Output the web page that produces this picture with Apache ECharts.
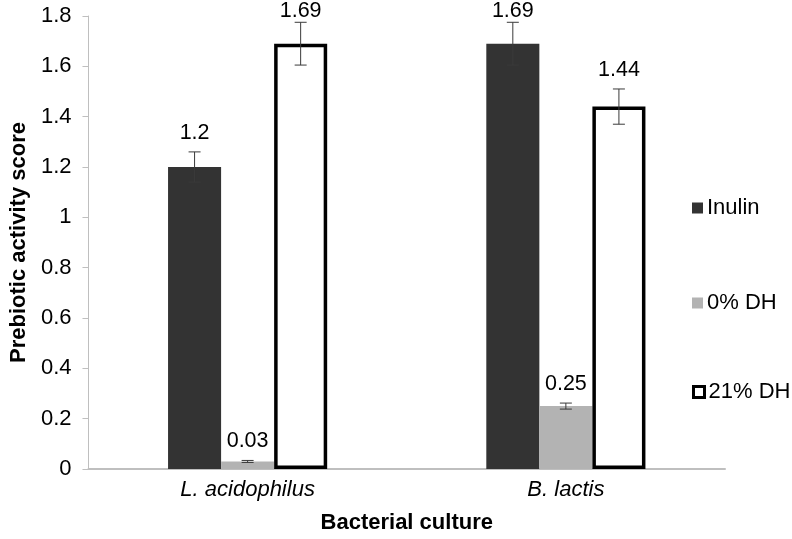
<!DOCTYPE html>
<html>
<head>
<meta charset="utf-8">
<script src="https://cdn.jsdelivr.net/npm/echarts@6/dist/echarts.min.js"></script>
<style>
html,body{margin:0;padding:0;background:#fff;}
#chart{width:792px;height:539px;}
</style>
</head>
<body>
<div id="chart"></div>
<script>
// ---- data ----
const categories = ['L. acidophilus', 'B. lactis'];
const seriesNames = ['Inulin', '0% DH', '21% DH'];
const inulin = [1.2, 1.69];
const dh0 = [0.03, 0.25];
const dh21 = [1.69, 1.44];
const inulinErr = [0.06, 0.085];
const dh0Err = [0.004, 0.012];
const dh21Err = [0.085, 0.07];
const yTicks = [0, 0.2, 0.4, 0.6, 0.8, 1, 1.2, 1.4, 1.6, 1.8];

const FONT = 'Liberation Sans, Arial, sans-serif';
const FS = 22;
const values = [inulin, dh0, dh21];
const errs = [inulinErr, dh0Err, dh21Err];
const barStyles = [
  {color: '#333333'},
  {color: '#b3b3b3'},
  {color: '#ffffff', borderColor: '#000000', borderWidth: 3.5}
];

function errSeries(k) {
  return {
    type: 'custom',
    z: 10,
    silent: true,
    clip: false,
    data: categories.map((c, i) => [i, values[k][i], errs[k][i]]),
    encode: {x: 0, y: 1},
    renderItem: function (params, api) {
      const ci = api.value(0), v = api.value(1), e = api.value(2);
      const band = api.size([1, 0])[0];
      const bw = band / 6;
      const dx = (k - 1) * bw;
      const top = api.coord([ci, v + e]);
      const bot = api.coord([ci, v - e]);
      const x = top[0] + dx;
      const cap = 6;
      const ls = {stroke: '#3a3a3a', lineWidth: 1};
      const ty = Math.max(top[1] - 8, 22);
      return {
        type: 'group',
        children: [
          {type: 'line', shape: {x1: x, y1: top[1], x2: x, y2: bot[1]}, style: ls},
          {type: 'line', shape: {x1: x - cap, y1: top[1], x2: x + cap, y2: top[1]}, style: ls},
          {type: 'line', shape: {x1: x - cap, y1: bot[1], x2: x + cap, y2: bot[1]}, style: ls},
          {type: 'text', style: {
            text: String(v), x: x, y: ty,
            align: 'center', verticalAlign: 'bottom',
            fontSize: 21.5, fontFamily: FONT, fill: '#000'
          }}
        ]
      };
    }
  };
}

const legendTops = [197, 292, 381];
const legends = seriesNames.map((n, k) => ({
  orient: 'vertical',
  left: 692,
  top: legendTops[k],
  padding: 0,
  itemWidth: 11,
  itemHeight: 11,
  itemGap: 0,
  icon: 'rect',
  textStyle: {fontSize: FS, fontFamily: FONT, color: '#000', padding: [0, 0, 0, -1]},
  data: [k === 2
    ? {name: n, itemStyle: {color: '#fff', borderColor: '#000', borderWidth: 3}}
    : {name: n}]
}));

const option = {
  animation: false,
  backgroundColor: '#fff',
  grid: {left: 73, right: 67, top: 16, bottom: 64, containLabel: false},
  legend: legends,
  xAxis: {
    type: 'category',
    data: categories,
    name: 'Bacterial culture',
    nameLocation: 'middle',
    nameGap: 43,
    nameTextStyle: {fontSize: FS, fontWeight: 'bold', fontFamily: FONT, color: '#000'},
    axisLine: {show: true, lineStyle: {color: '#bfbfbf', width: 2}},
    axisTick: {show: false},
    axisLabel: {fontSize: FS, fontStyle: 'italic', fontFamily: FONT, color: '#000', margin: 10},
    splitLine: {show: false}
  },
  yAxis: {
    type: 'value',
    min: yTicks[0],
    max: yTicks[yTicks.length - 1],
    interval: 0.2,
    name: 'Prebiotic activity score',
    nameLocation: 'middle',
    nameGap: 51,
    nameTextStyle: {fontSize: FS, fontWeight: 'bold', fontFamily: FONT, color: '#000'},
    axisLine: {show: true, lineStyle: {color: '#bfbfbf', width: 1}},
    axisTick: {show: true, length: 6, lineStyle: {color: '#bfbfbf'}},
    axisLabel: {fontSize: FS, fontFamily: FONT, color: '#000', margin: 17},
    splitLine: {show: false}
  },
  series: seriesNames.map((n, k) => ({
    name: n,
    type: 'bar',
    data: values[k],
    barWidth: '16.6667%',
    barGap: '0%',
    itemStyle: barStyles[k]
  })).concat([0, 1, 2].map(errSeries))
};

const chart = echarts.init(document.getElementById('chart'), null, {renderer: 'canvas'});
chart.setOption(option);
</script>
</body>
</html>
